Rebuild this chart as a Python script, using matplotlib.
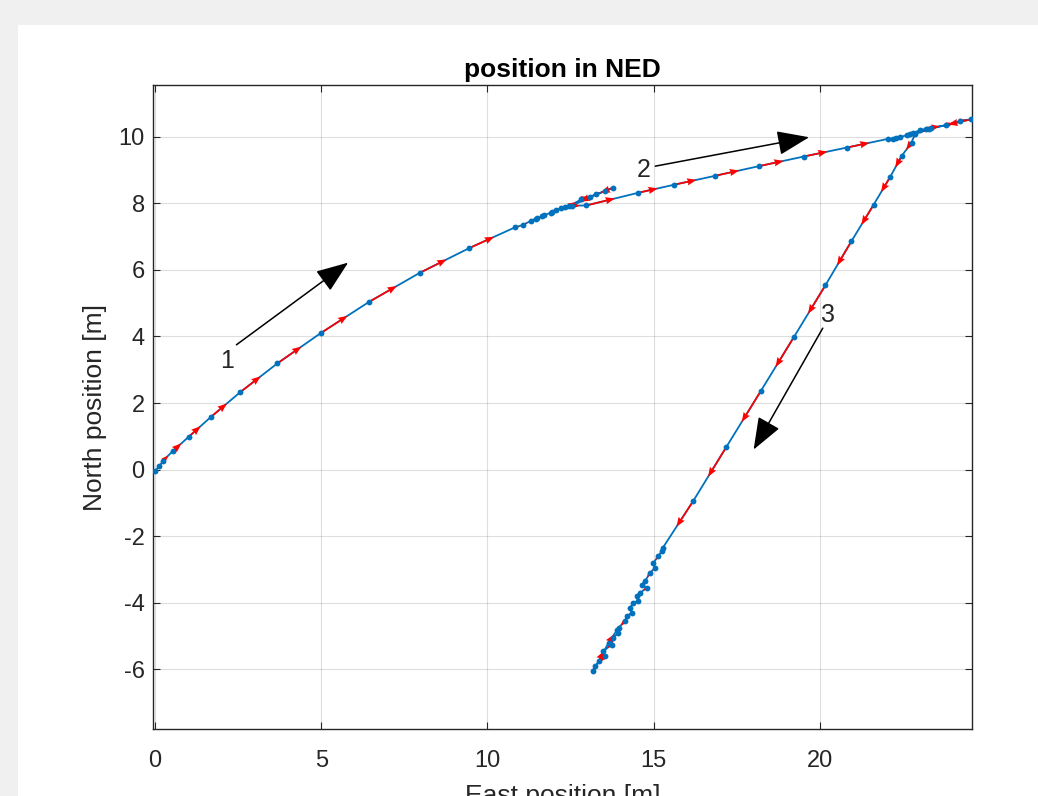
import matplotlib
matplotlib.use("Agg")
import matplotlib.pyplot as plt
from matplotlib.patches import Rectangle
import numpy as np

# east / north positions, in flight order
east = [0.00, 0.13, 0.25, 0.53, 1.01, 1.67, 2.57, 3.68, 5.00, 6.44, 7.96, 9.44,
        10.83, 11.06, 11.30, 11.50, 11.45, 11.70, 11.65, 11.90, 12.05, 11.95, 12.20, 12.35, 12.45,
        12.83, 13.28, 13.53, 13.78, 13.10, 12.55,
        12.98, 14.54, 15.61, 16.85, 18.17, 19.52, 20.82,
        22.05, 22.20, 22.41, 22.30, 22.61, 22.81, 22.70, 23.01, 23.21, 23.36, 23.81, 24.21, 24.56,
        23.30, 22.86,
        22.76, 22.46, 22.12, 21.62, 20.95, 20.17, 19.22, 18.22, 17.19, 16.19, 15.28,
        15.24, 15.14, 14.99, 15.04, 14.89, 14.74, 14.64, 14.79, 14.59, 14.49, 14.54, 14.39,
        14.29, 14.34, 14.19, 14.14, 13.89, 13.94, 13.79, 13.74, 13.49, 13.54, 13.23, 13.18,
        13.35, 13.65, 13.95]
north = [-0.05, 0.10, 0.27, 0.55, 0.98, 1.57, 2.33, 3.19, 4.11, 5.04, 5.91, 6.65,
         7.28, 7.35, 7.47, 7.57, 7.53, 7.64, 7.62, 7.72, 7.79, 7.75, 7.85, 7.90, 7.92,
         8.12, 8.27, 8.37, 8.47, 8.20, 7.93,
         7.94, 8.32, 8.56, 8.83, 9.12, 9.41, 9.68,
         9.94, 9.93, 9.99, 9.96, 10.05, 10.12, 10.08, 10.20, 10.25, 10.28, 10.35, 10.48, 10.53,
         10.24, 10.08,
         9.83, 9.42, 8.80, 7.96, 6.86, 5.54, 3.98, 2.35, 0.68, -0.95, -2.35,
         -2.46, -2.61, -2.81, -2.96, -3.11, -3.36, -3.46, -3.56, -3.71, -3.81, -3.96, -4.01,
         -4.16, -4.31, -4.41, -4.56, -4.81, -4.91, -5.06, -5.26, -5.46, -5.61, -5.92, -6.07,
         -5.75, -5.20, -4.75]

# direction labels: (text position, arrow tail, arrow head)
labels = ["1", "2", "3"]
label_pos = [(2.17, 3.25), (14.69, 9.00), (20.25, 4.64)]
arrow_tail = [(2.45, 3.75), (15.05, 9.12), (20.09, 4.25)]
arrow_head = [(5.81, 6.22), (19.68, 9.99), (18.01, 0.60)]

xticks = [0, 5, 10, 15, 20]
yticks = [-6, -4, -2, 0, 2, 4, 6, 8, 10]

plt.rcParams['font.family'] = ['Liberation Sans', 'DejaVu Sans']
plt.rcParams['axes.unicode_minus'] = False

fig = plt.figure(figsize=(10.38, 7.96), dpi=100, facecolor='#f0f0f0')
fig.patches.append(Rectangle((18 / 1038, 0), 1, 1 - 25 / 796, transform=fig.transFigure,
                             facecolor='white', edgecolor='none', zorder=-5))
ax = fig.add_axes([153 / 1038, 1 - 729 / 796, (972 - 153) / 1038, (729 - 85) / 796])
ax.set_zorder(2)

e = np.array(east)
n = np.array(north)
ax.plot(e, n, '-', color='#0072BD', lw=1.3, zorder=2)
step = 0.55
ax.quiver(e[:-1], n[:-1], np.diff(e) * step, np.diff(n) * step, angles='xy',
          scale_units='xy', scale=1, color='#ff0000', width=0.0021,
          headwidth=4.2, headlength=5.5, headaxislength=5, zorder=3)
ax.plot(e, n, 'o', color='#0072BD', ms=4.2, mec='none', zorder=4)

for lab, tp, tl, hd in zip(labels, label_pos, arrow_tail, arrow_head):
    ax.annotate('', xy=hd, xytext=tl,
                arrowprops=dict(arrowstyle='-|>,head_length=1.0,head_width=0.38',
                                color='black', lw=1.1, shrinkA=0, shrinkB=0,
                                mutation_scale=20), zorder=5)
    ax.text(tp[0], tp[1], lab, fontsize=18, ha='center', va='center', color='#262626')

ax.set_xlim(-0.06, 24.58)
ax.set_ylim(-7.8, 11.56)
ax.set_xticks(xticks)
ax.set_yticks(yticks)
ax.grid(True, color='#262626', alpha=0.15, lw=0.8)
ax.set_axisbelow(True)
ax.tick_params(direction='in', length=5, width=0.8, colors='#262626', labelsize=17,
               top=True, right=True)
ax.tick_params(axis='x', pad=15)
ax.tick_params(axis='y', pad=6)
for sp in ax.spines.values():
    sp.set_color('#262626')
    sp.set_linewidth(1.0)

ax.set_title('position in NED', fontsize=19, fontweight='bold', pad=6)
ax.set_xlabel('East position [m]', fontsize=19, color='#262626', labelpad=9)
ax.set_ylabel('North position [m]', fontsize=19, color='#262626', labelpad=8)

fig.savefig('out.png', dpi=100, facecolor=fig.get_facecolor())
